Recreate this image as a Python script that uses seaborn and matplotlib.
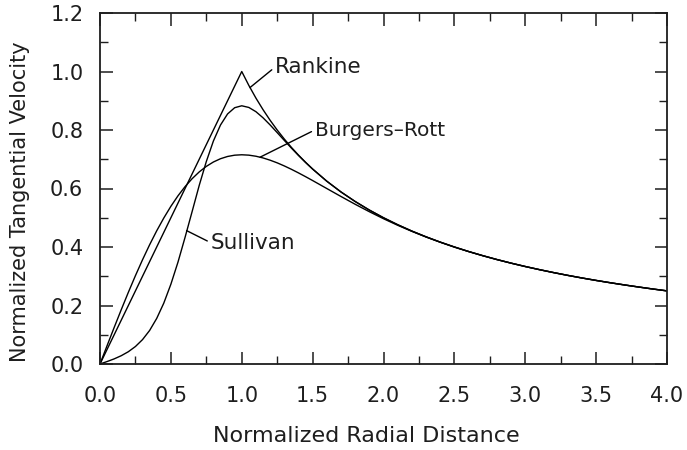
import numpy as np
import pandas as pd
import matplotlib
matplotlib.use("Agg")
import matplotlib.pyplot as plt
import seaborn as sns
from matplotlib.ticker import MultipleLocator

# Normalized radial distance grid
radius = [0.0, 0.05, 0.1, 0.15, 0.2, 0.25, 0.3, 0.35, 0.4, 0.45, 0.5, 0.55, 0.6, 0.65,
          0.7, 0.75, 0.8, 0.85, 0.9, 0.95, 1.0, 1.05, 1.1, 1.15, 1.2, 1.25, 1.3, 1.35,
          1.4, 1.45, 1.5, 1.6, 1.7, 1.8, 1.9, 2.0, 2.1, 2.2, 2.3, 2.4, 2.5, 2.6, 2.7,
          2.8, 2.9, 3.0, 3.1, 3.2, 3.3, 3.4, 3.5, 3.6, 3.7, 3.8, 3.9, 4.0]

rankine = [0.0, 0.05, 0.1, 0.15, 0.2, 0.25, 0.3, 0.35, 0.4, 0.45, 0.5, 0.55, 0.6, 0.65,
           0.7, 0.75, 0.8, 0.85, 0.9, 0.95, 1.0, 0.9524, 0.9091, 0.8696, 0.8333, 0.8,
           0.7692, 0.7407, 0.7143, 0.6897, 0.6667, 0.625, 0.5882, 0.5556, 0.5263, 0.5,
           0.4762, 0.4545, 0.4348, 0.4167, 0.4, 0.3846, 0.3704, 0.3571, 0.3448, 0.3333,
           0.3226, 0.3125, 0.3030, 0.2941, 0.2857, 0.2778, 0.2703, 0.2632, 0.2564, 0.25]

burgers_rott = [0.0, 0.0627, 0.1249, 0.1858, 0.2451, 0.3021, 0.3564, 0.4076, 0.4553,
                0.4991, 0.5391, 0.5749, 0.6064, 0.6336, 0.6567, 0.6756, 0.6906, 0.7018,
                0.7095, 0.7139, 0.7153, 0.7140, 0.7103, 0.7045, 0.6968, 0.6877, 0.6772,
                0.6657, 0.6534, 0.6405, 0.6272, 0.5999, 0.5727, 0.5461, 0.5207, 0.4967,
                0.4743, 0.4535, 0.4342, 0.4164, 0.3998, 0.3845, 0.3703, 0.3571, 0.3448,
                0.3333, 0.3226, 0.3125, 0.3030, 0.2941, 0.2857, 0.2778, 0.2703, 0.2632,
                0.2564, 0.25]

sullivan = [0.0, 0.0084, 0.0175, 0.0284, 0.0420, 0.0598, 0.0834, 0.1146, 0.1558, 0.2081,
            0.2727, 0.3481, 0.4329, 0.5214, 0.6107, 0.6921, 0.7624, 0.8170, 0.8549,
            0.8762, 0.8828, 0.8771, 0.8626, 0.8418, 0.8174, 0.7911, 0.7645, 0.7383,
            0.7131, 0.6891, 0.6664, 0.6249, 0.5882, 0.5556, 0.5263, 0.5, 0.4762, 0.4545,
            0.4348, 0.4167, 0.4, 0.3846, 0.3704, 0.3571, 0.3448, 0.3333, 0.3226, 0.3125,
            0.3030, 0.2941, 0.2857, 0.2778, 0.2703, 0.2632, 0.2564, 0.25]

model_names = ["Rankine", "Burgers\u2013Rott", "Sullivan"]
x_ticks = [0.0, 0.5, 1.0, 1.5, 2.0, 2.5, 3.0, 3.5, 4.0]
y_ticks = [0.0, 0.2, 0.4, 0.6, 0.8, 1.0, 1.2]

df = pd.DataFrame({
    "r": radius * 3,
    "v": rankine + burgers_rott + sullivan,
    "model": [m for m in model_names for _ in radius],
})

sns.set_theme(style="ticks")
plt.rcParams["font.family"] = ["DejaVu Sans"]

ink = "#1e1e1e"
fig = plt.figure(figsize=(6.87, 4.5), dpi=100)
ax = fig.add_axes([100 / 687, 1 - 364 / 450, 567 / 687, 351 / 450])

sns.lineplot(data=df, x="r", y="v", hue="model", units="model", estimator=None,
             palette=["black"] * 3, linewidth=1.0, legend=False, ax=ax, sort=False)

ax.set_xlim(0, 4)
ax.set_ylim(0, 1.2)
ax.set_xticks(x_ticks)
ax.set_yticks(y_ticks)
ax.set_xticklabels([f"{t:.1f}" for t in x_ticks])
ax.set_yticklabels([f"{t:.1f}" for t in y_ticks])
ax.xaxis.set_minor_locator(MultipleLocator(0.25))
ax.yaxis.set_minor_locator(MultipleLocator(0.1))
ax.tick_params(which="both", direction="in", top=True, right=True, color=ink)
ax.tick_params(which="major", length=9, width=1.1, labelsize=15, colors=ink)
ax.tick_params(axis="x", which="major", pad=16)
ax.tick_params(axis="y", which="major", pad=12)
ax.tick_params(which="minor", length=6, width=1.0)
for s in ax.spines.values():
    s.set_linewidth(1.3)
    s.set_color(ink)

ax.set_xlabel("Normalized Radial Distance", fontsize=16, color=ink)
ax.set_ylabel("Normalized Tangential Velocity", fontsize=15, color=ink)
ax.xaxis.label.set_va("center")
ax.yaxis.label.set_va("center")
ax.xaxis.set_label_coords((366 - 100) / 567, (364 - 436) / 351)
ax.yaxis.set_label_coords((20 - 100) / 567, (364 - 202) / 351)

lab_kw = dict(color=ink, va="center", ha="left")
line_kw = dict(arrowstyle="-", color="black", lw=1.0, shrinkA=0, shrinkB=0, relpos=(0, 0.5))
ax.annotate("Rankine", xy=(1.058, 0.945), xytext=(1.235, 1.015),
            arrowprops=line_kw, fontsize=15.5, **lab_kw)
ax.annotate("Burgers\u2013Rott", xy=(1.129, 0.707), xytext=(1.515, 0.80),
            arrowprops=line_kw, fontsize=14.5, **lab_kw)
ax.annotate("Sullivan", xy=(0.611, 0.456), xytext=(0.78, 0.415),
            arrowprops=line_kw, fontsize=15.5, **lab_kw)

fig.savefig("out.png", dpi=100)
